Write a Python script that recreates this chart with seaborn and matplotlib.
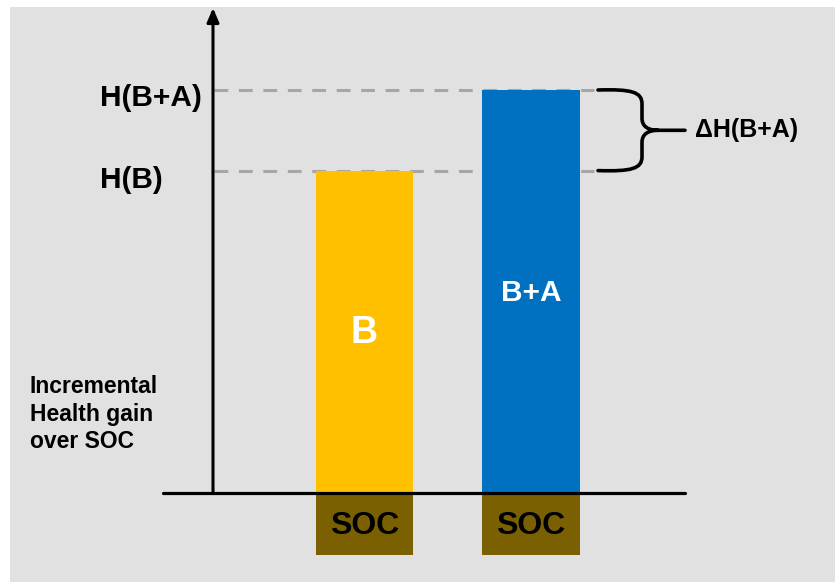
import matplotlib
matplotlib.use("Agg")
import matplotlib.pyplot as plt
import matplotlib.patches as mpatches
from matplotlib.path import Path
import seaborn as sns
import pandas as pd

sns.set_theme(style="white")
plt.rcParams["font.family"] = ["Liberation Sans", "DejaVu Sans"]

# values
categories = ["B", "B+A"]
health_gain = [4.0, 5.0]          # incremental health gain over SOC
soc_block = [0.77, 0.77]          # standard-of-care block below baseline
level_labels = ["H(B)", "H(B+A)"]
delta_label = "\u0394H(B+A)"
bar_colors = ["#FFC000", "#0070C0"]
soc_color = "#7A6000"

df = pd.DataFrame({"arm": categories, "gain": health_gain,
                   "soc": [-v for v in soc_block]})

fig = plt.figure(figsize=(8.35, 5.82), dpi=100)
fig.patch.set_facecolor("white")
ax = fig.add_axes([0, 0, 1, 1])
ax.set_axis_off()

# scale helpers: pixel layout -> data units
PX_X, X0 = 166.5, 364.5
PX_Y, Y0 = 80.6, 493.0
def dx(px):
    return (px - X0) / PX_X
def dy(py):
    return (Y0 - py) / PX_Y

ax.set_xlim(dx(0), dx(835))
ax.set_ylim(dy(582), dy(0))

# grey panel
ax.add_patch(mpatches.Rectangle((dx(10), dy(582)), dx(835) - dx(10),
                                dy(7) - dy(582), facecolor="#E1E1E1",
                                edgecolor="none", zorder=0))

sns.barplot(data=df, x="arm", y="gain", hue="arm", palette=bar_colors,
            width=0.585, saturation=1, legend=False, ax=ax, zorder=2,
            linewidth=0, edgecolor="none")
sns.barplot(data=df, x="arm", y="soc", color=soc_color, width=0.585,
            saturation=1, ax=ax, zorder=2, linewidth=0, edgecolor="none")
ax.set_xlim(dx(0), dx(835))
ax.set_ylim(dy(582), dy(0))
ax.set_axis_off()

# baseline
ax.plot([dx(163), dx(685)], [0, 0], color="black", lw=2.3,
        solid_capstyle="round", zorder=3)
# vertical arrow axis
ax.annotate("", xy=(dx(213), dy(8)), xytext=(dx(213), 0),
            arrowprops=dict(arrowstyle="-|>,head_length=0.7,head_width=0.3",
                            color="black", lw=2.2, shrinkA=0, shrinkB=0),
            zorder=3)

# dashed reference levels
for h in health_gain:
    ax.plot([dx(214), dx(594)], [h, h], color="#A6A6A6", lw=2.2,
            ls=(0, (4.5, 3.5)), zorder=1)
off = {"H(B)": 9, "H(B+A)": 8}
for h, lab in zip(health_gain, level_labels):
    ax.text(dx(100), h - off[lab] / PX_Y, lab, fontsize=21.5,
            fontweight="bold", ha="left", va="center", color="black")

# bar labels
ax.text(0, dy(333), categories[0], fontsize=27, fontweight="bold",
        color="white", ha="center", va="center", zorder=4)
ax.text(1, dy(293), categories[1], fontsize=21.5, fontweight="bold",
        color="white", ha="center", va="center", zorder=4)
for i in range(len(categories)):
    ax.text(i, -soc_block[i] / 2 - 2 / PX_Y, "SOC", fontsize=23,
            fontweight="bold", color="black", ha="center", va="center",
            zorder=4)

# brace spanning the gain difference
top, bot = health_gain[1], health_gain[0]
mid = (top + bot) / 2
ux = 1 / PX_X
uy = 1 / PX_Y
x0, xv, xt = dx(598), dx(642), dx(685)
verts = [
    (x0, top),
    (x0 + 34 * ux, top + 1 * uy), (xv, top - 2 * uy), (xv, top - 14 * uy),
    (xv, mid + 12 * uy),
    (xv, mid + 4 * uy), (xv + 6 * ux, mid), (xv + 16 * ux, mid),
    (xt, mid),
    (xv + 16 * ux, mid),
    (xv + 6 * ux, mid), (xv, mid - 4 * uy), (xv, mid - 12 * uy),
    (xv, bot + 14 * uy),
    (xv, bot + 2 * uy), (x0 + 34 * ux, bot - 1 * uy), (x0, bot),
]
codes = [Path.MOVETO,
         Path.CURVE4, Path.CURVE4, Path.CURVE4,
         Path.LINETO,
         Path.CURVE4, Path.CURVE4, Path.CURVE4,
         Path.LINETO,
         Path.MOVETO,
         Path.CURVE4, Path.CURVE4, Path.CURVE4,
         Path.LINETO,
         Path.CURVE4, Path.CURVE4, Path.CURVE4]
ax.add_patch(mpatches.PathPatch(Path(verts, codes), facecolor="none",
                                edgecolor="black", lw=2.6, capstyle="round",
                                zorder=3))
ax.text(dx(695), mid, delta_label, fontsize=18, fontweight="bold",
        ha="left", va="center", color="black")

# axis caption
ax.text(dx(30), dy(414), "Incremental\nHealth gain\nover SOC", fontsize=16.5,
        fontweight="bold", ha="left", va="center", linespacing=1.27,
        color="black")

fig.savefig("out.png", dpi=100, facecolor=fig.get_facecolor())
